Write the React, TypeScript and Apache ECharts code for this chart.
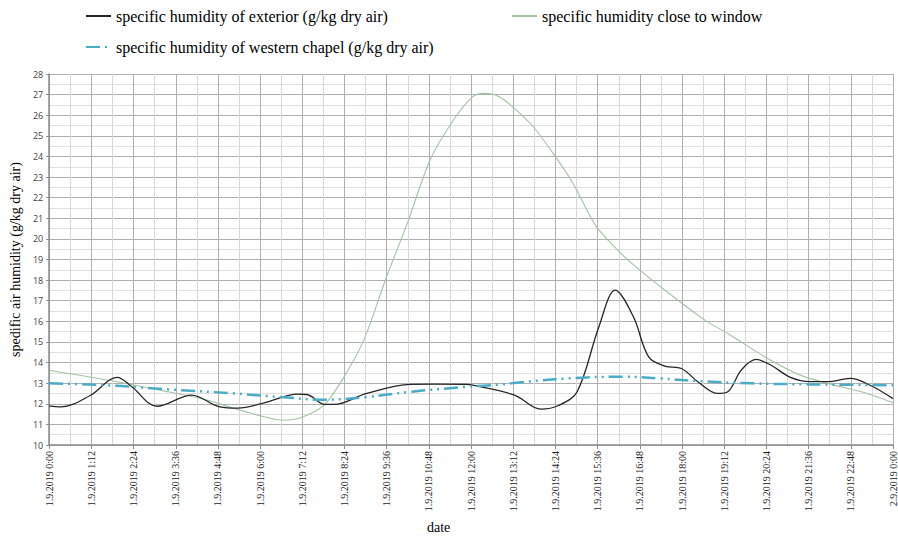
import React, { useEffect, useRef } from "react";
import * as echarts from "echarts";

const exteriorName = "specific humidity of exterior (g/kg dry air)";
const windowName = "specific humidity close to window";
const chapelName = "specific humidity of western chapel (g/kg dry air)";

// minutes since 1.9.2019 0:00
const exteriorTimes = [0, 20, 70, 116, 140, 184, 243, 291, 322, 367, 424, 440, 470, 486, 542, 616, 656, 711, 723, 794, 839, 870, 901, 938, 966, 997, 1023, 1051, 1079, 1107, 1141, 1158, 1181, 1206, 1232, 1265, 1299, 1328, 1367, 1401, 1440];
const exteriorValues = [11.9, 11.85, 12.4, 13.28, 12.85, 11.88, 12.42, 11.85, 11.79, 12.04, 12.47, 12.45, 11.97, 11.97, 12.5, 12.94, 12.95, 12.94, 12.9, 12.42, 11.74, 11.93, 12.58, 15.73, 17.51, 16.22, 14.28, 13.83, 13.71, 13.07, 12.5, 12.58, 13.63, 14.15, 13.87, 13.28, 13.07, 13.07, 13.23, 12.9, 12.25];

const windowTimes = [0, 116, 203, 271, 316, 367, 398, 430, 469, 503, 537, 575, 613, 650, 690, 723, 743, 768, 794, 826, 860, 894, 925, 939, 988, 1051, 1119, 1158, 1226, 1282, 1328, 1396, 1440];
const windowValues = [13.63, 13.07, 12.58, 12.17, 11.77, 11.37, 11.2, 11.33, 11.93, 13.3, 15.1, 18.1, 20.9, 23.83, 25.77, 26.9, 27.06, 26.9, 26.33, 25.44, 24.15, 22.69, 21.0, 20.4, 18.97, 17.51, 16.06, 15.41, 14.2, 13.39, 12.99, 12.5, 12.05];

const chapelTimes = [0, 116, 203, 316, 406, 469, 542, 616, 711, 770, 805, 918, 980, 1042, 1104, 1200, 1302, 1440];
const chapelValues = [13.0, 12.87, 12.7, 12.5, 12.3, 12.2, 12.33, 12.58, 12.82, 12.93, 13.05, 13.28, 13.31, 13.23, 13.11, 12.99, 12.94, 12.9];

const yMin = 10;
const yMax = 28;
const xMin = 0;
const xMax = 1440;
const xStep = 72;

const pairs = (t: number[], v: number[]) => t.map((x, i) => [x, v[i]]);

const fmtTime = (m: number) => {
  if (m >= 1440) return "2.9.2019 0:00";
  const h = Math.floor(m / 60);
  const mm = Math.round(m % 60);
  return `1.9.2019 ${h}:${mm < 10 ? "0" + mm : mm}`;
};

const serif = "Liberation Serif";

export default function App() {
  const ref = useRef<HTMLDivElement>(null);
  useEffect(() => {
    if (!ref.current) return;
    const chart = echarts.init(ref.current, undefined, { renderer: "svg" });
    const legendBase = {
      orient: "horizontal" as const,
      itemWidth: 25,
      itemHeight: 14,
      itemStyle: { opacity: 0 },
      textStyle: { fontFamily: serif, fontSize: 16, color: "#000" },
    };
    chart.setOption({
      animation: false,
      backgroundColor: "#fff",
      grid: { left: 43, right: 5, top: 74, bottom: 92, containLabel: false },
      legend: [
        { ...legendBase, left: 80, top: 3, data: [exteriorName] },
        { ...legendBase, left: 506, top: 3, data: [windowName] },
        { ...legendBase, left: 80, top: 34, data: [chapelName] },
      ],
      xAxis: {
        type: "value",
        min: xMin,
        max: xMax,
        interval: xStep,
        axisLine: { show: true, lineStyle: { color: "#8c8c8c", width: 1.5 } },
        axisTick: { show: true, length: 4, lineStyle: { color: "#8c8c8c" } },
        axisLabel: {
          rotate: 90,
          fontFamily: serif,
          fontSize: 10,
          color: "#222",
          margin: 6,
          formatter: (v: number) => fmtTime(v),
        },
        splitLine: { show: true, lineStyle: { color: "#b0b0b0", width: 1 } },
        minorTick: { show: false, splitNumber: 2 },
        minorSplitLine: { show: true, lineStyle: { color: "#d8d8d8", width: 1 } },
      },
      yAxis: {
        type: "value",
        min: yMin,
        max: yMax,
        interval: 1,
        name: "spedific air humidity (g/kg dry air)",
        nameLocation: "middle",
        nameGap: 23,
        nameTextStyle: { fontFamily: serif, fontSize: 14, color: "#000" },
        axisLine: { show: true, lineStyle: { color: "#8c8c8c", width: 1.5 } },
        axisTick: { show: true, length: 3, lineStyle: { color: "#8c8c8c" } },
        axisLabel: { fontFamily: "Open Sans", fontSize: 9, color: "#444", margin: 6 },
        splitLine: { show: true, lineStyle: { color: "#b0b0b0", width: 1 } },
        minorTick: { show: false, splitNumber: 2 },
        minorSplitLine: { show: true, lineStyle: { color: "#e0e0e0", width: 1 } },
      },
      graphic: [
        {
          type: "text",
          left: 427,
          top: 520,
          style: { text: "date", font: `14px "${serif}"`, fill: "#000" },
        },
      ],
      series: [
        {
          name: exteriorName,
          type: "line",
          data: pairs(exteriorTimes, exteriorValues),
          smooth: 0.35,
          showSymbol: false,
          symbol: "none",
          lineStyle: { color: "#262626", width: 1.3 },
          itemStyle: { color: "#262626" },
          z: 4,
        },
        {
          name: windowName,
          type: "line",
          data: pairs(windowTimes, windowValues),
          smooth: 0.3,
          showSymbol: false,
          symbol: "none",
          lineStyle: { color: "#a3c4a3", width: 1.1 },
          itemStyle: { color: "#a3c4a3" },
          z: 3,
        },
        {
          name: chapelName,
          type: "line",
          data: pairs(chapelTimes, chapelValues),
          smooth: 0.4,
          showSymbol: false,
          symbol: "none",
          lineStyle: { color: "#4bacc6", width: 2.5, type: [14, 5, 2, 5, 2, 5] },
          itemStyle: { color: "#4bacc6" },
          z: 5,
        },
      ],
    });
    return () => chart.dispose();
  }, []);
  return (
    <div
      ref={ref}
      style={{ position: "fixed", left: 0, top: 0, width: 898, height: 537, background: "#fff" }}
    />
  );
}
